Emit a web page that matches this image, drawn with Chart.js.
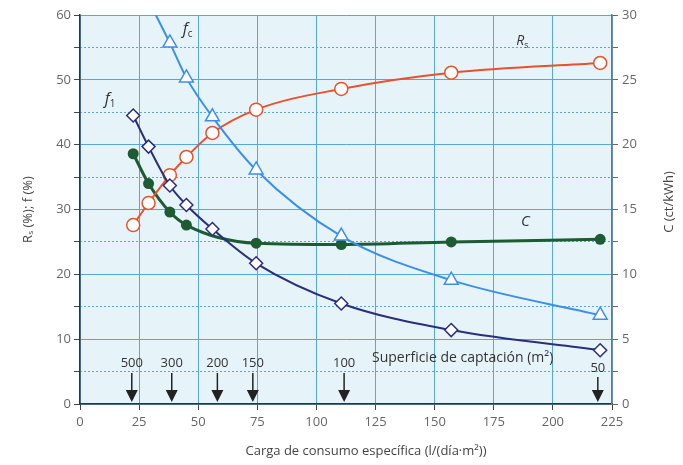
<!DOCTYPE html>
<html>
<head>
<meta charset="utf-8">
<script src="https://cdn.jsdelivr.net/npm/chart.js@4.4.0/dist/chart.umd.min.js"></script>
<style>
  html, body { margin: 0; background: #fff; }
</style>
</head>
<body>
<canvas id="chart" width="683" height="465"></canvas>
<script>
// specific consumption load (l/(dia·m2)) at each simulated point
const loads = [22.5, 29, 38, 45, 56, 74.5, 110.5, 157, 220];
// solar fraction Rs (%)
const rsValues = [27.6, 31.0, 35.3, 38.1, 41.8, 45.4, 48.6, 51.1, 52.6];
// f1 (%)
const f1Values = [44.5, 39.7, 33.7, 30.7, 27.0, 21.7, 15.5, 11.4, 8.3];
// fc (%) - the curve leaves the top of the chart before the first marker
const fcValues = [null, 62.2, 55.7, 50.3, 44.3, 36.1, 25.9, 19.1, 13.7];
// cost C (ct/kWh), right axis
const costValues = [19.3, 17.0, 14.8, 13.8, null, 12.4, 12.3, 12.5, 12.7];

// collector area markers (m2) and the load they point at
const areaLabels = ['500', '300', '200', '150', '100', '50'];
const areaLoads = [21.9, 38.8, 58.1, 73.1, 111.7, 219];

const xTicks = [0, 25, 50, 75, 100, 125, 150, 175, 200, 225];

const toPoints = arr => loads.map((x, i) => ({ x: x, y: arr[i] })).filter(p => p.y !== null);

const FONT = '"Open Sans", "DejaVu Sans", sans-serif';
const GRID_BLUE = '#55a7e2';

// light blue plot background
const plotBg = {
  id: 'plotBg',
  beforeDraw(chart) {
    const { ctx, chartArea: a } = chart;
    ctx.save();
    ctx.fillStyle = '#e6f4fa';
    ctx.fillRect(a.left, a.top, a.right - a.left, a.bottom - a.top);
    ctx.restore();
  }
};

function subText(ctx, base, sub, x, y, size) {
  ctx.font = 'italic ' + size + 'px ' + FONT;
  ctx.textAlign = 'left';
  ctx.textBaseline = 'alphabetic';
  ctx.fillText(base, x, y);
  const w = ctx.measureText(base).width;
  if (sub) {
    ctx.font = (size * 0.62) + 'px ' + FONT;
    ctx.fillText(sub, x + w, y + 3);
  }
}

// arrows for collector area, series labels, axis titles
const notes = {
  id: 'notes',
  afterDatasetsDraw(chart) {
    const { ctx, chartArea: a } = chart;
    const xs = chart.scales.x;
    const ys = chart.scales.y;
    ctx.save();
    ctx.fillStyle = '#222';
    ctx.strokeStyle = '#222';
    ctx.lineWidth = 1.5;
    areaLoads.forEach((v, i) => {
      const px = xs.getPixelForValue(v);
      const bottom = a.bottom - 2;
      const top = i === areaLoads.length - 1 ? a.bottom - 27 : a.bottom - 31;
      ctx.beginPath();
      ctx.moveTo(px, top);
      ctx.lineTo(px, bottom - 10);
      ctx.stroke();
      ctx.beginPath();
      ctx.moveTo(px - 6, bottom - 12);
      ctx.lineTo(px + 6, bottom - 12);
      ctx.lineTo(px, bottom);
      ctx.closePath();
      ctx.fill();
      ctx.font = '13px ' + FONT;
      ctx.textAlign = 'center';
      ctx.textBaseline = 'middle';
      ctx.fillStyle = '#333';
      ctx.fillText(areaLabels[i], px, i === areaLoads.length - 1 ? a.bottom - 36 : a.bottom - 41);
      ctx.fillStyle = '#222';
    });
    ctx.font = '14px ' + FONT;
    ctx.textAlign = 'left';
    ctx.textBaseline = 'middle';
    ctx.fillStyle = '#333';
    ctx.fillText('Superficie de captación (m²)', xs.getPixelForValue(123.5), a.bottom - 46);

    subText(ctx, 'f', 'c', xs.getPixelForValue(43.5), ys.getPixelForValue(57), 16);
    subText(ctx, 'f', '1', xs.getPixelForValue(10.5), ys.getPixelForValue(46.3), 16);
    subText(ctx, 'R', 's', xs.getPixelForValue(184.5), ys.getPixelForValue(55.4), 14);
    subText(ctx, 'C', null, xs.getPixelForValue(186.5), ys.getPixelForValue(27.4), 15);

    // axis titles
    ctx.fillStyle = '#444';
    ctx.font = '13px ' + FONT;
    ctx.textAlign = 'center';
    ctx.textBaseline = 'middle';
    ctx.fillText('Carga de consumo específica (l/(día·m²))', 366, 451);
    ctx.translate(669, 202);
    ctx.rotate(-Math.PI / 2);
    ctx.fillText('C (ct/kWh)', 0, 0);
    ctx.restore();
  }
};

new Chart(document.getElementById('chart'), {
  type: 'line',
  data: {
    datasets: [
      {
        label: 'fc',
        data: toPoints(fcValues),
        borderColor: '#3b8fe8',
        borderWidth: 2,
        backgroundColor: '#ffffff',
        pointStyle: 'triangle',
        pointRadius: c => (c.raw && c.raw.y > 60 ? 0 : 8),
        pointBorderWidth: 1.5,
        cubicInterpolationMode: 'monotone',
        clip: 0,
        yAxisID: 'y'
      },
      {
        label: 'f1',
        data: toPoints(f1Values),
        borderColor: '#2b2e78',
        borderWidth: 2,
        backgroundColor: '#ffffff',
        pointStyle: 'rectRot',
        pointRadius: 6.5,
        pointBorderWidth: 1.5,
        cubicInterpolationMode: 'monotone',
        yAxisID: 'y'
      },
      {
        label: 'Rs',
        data: toPoints(rsValues),
        borderColor: '#e8512b',
        borderWidth: 2,
        backgroundColor: '#ffffff',
        pointStyle: 'circle',
        pointRadius: 6.5,
        pointBorderWidth: 1.5,
        cubicInterpolationMode: 'monotone',
        yAxisID: 'y'
      },
      {
        label: 'C',
        data: toPoints(costValues),
        borderColor: '#1d5b33',
        borderWidth: 3,
        backgroundColor: '#1d5b33',
        pointStyle: 'circle',
        pointRadius: 5.5,
        pointBorderWidth: 0,
        cubicInterpolationMode: 'monotone',
        yAxisID: 'y1'
      }
    ]
  },
  options: {
    responsive: false,
    animation: false,
    events: [],
    layout: { padding: { top: 15 } },
    plugins: { legend: { display: false }, tooltip: { enabled: false } },
    scales: {
      x: {
        type: 'linear',
        min: 0,
        max: 225,
        afterBuildTicks: s => { s.ticks = xTicks.map(v => ({ value: v })); },
        afterFit: s => { s.height = 61; },
        grid: { color: GRID_BLUE, lineWidth: 1, tickColor: '#444', tickLength: 6 },
        border: { color: '#333', width: 1.5 },
        ticks: { color: '#666', font: { family: FONT, size: 13 }, padding: 4, maxRotation: 0 }
      },
      y: {
        position: 'left',
        min: 0,
        max: 60,
        afterFit: s => { s.width = 80; },
        grid: {
          color: c => (c.tick.value % 10 === 0 ? GRID_BLUE : 'rgba(0,0,0,0)'),
          tickColor: '#444',
          tickLength: 6
        },
        border: { color: '#333', width: 1.5 },
        ticks: {
          stepSize: 5,
          color: '#666',
          font: { family: FONT, size: 13 },
          padding: 3,
          callback: v => (v % 10 === 0 ? v : '')
        },
        title: {
          display: true,
          text: 'Rₛ (%); f (%)',
          color: '#444',
          font: { family: FONT, size: 13 },
          padding: { top: 20, bottom: 0 }
        }
      },
      y1: {
        position: 'right',
        min: 0,
        max: 30,
        afterFit: s => { s.width = 71; },
        grid: {
          color: c => (c.tick.value % 5 !== 0 ? GRID_BLUE : 'rgba(0,0,0,0)'),
          tickColor: '#666',
          tickLength: 6
        },
        border: { color: '#777', width: 1.5, dash: [2, 2] },
        ticks: {
          stepSize: 2.5,
          color: '#666',
          font: { family: FONT, size: 13 },
          padding: 4,
          callback: v => (v % 5 === 0 ? v : '')
        }
      }
    }
  },
  plugins: [plotBg, notes]
});
</script>
</body>
</html>
